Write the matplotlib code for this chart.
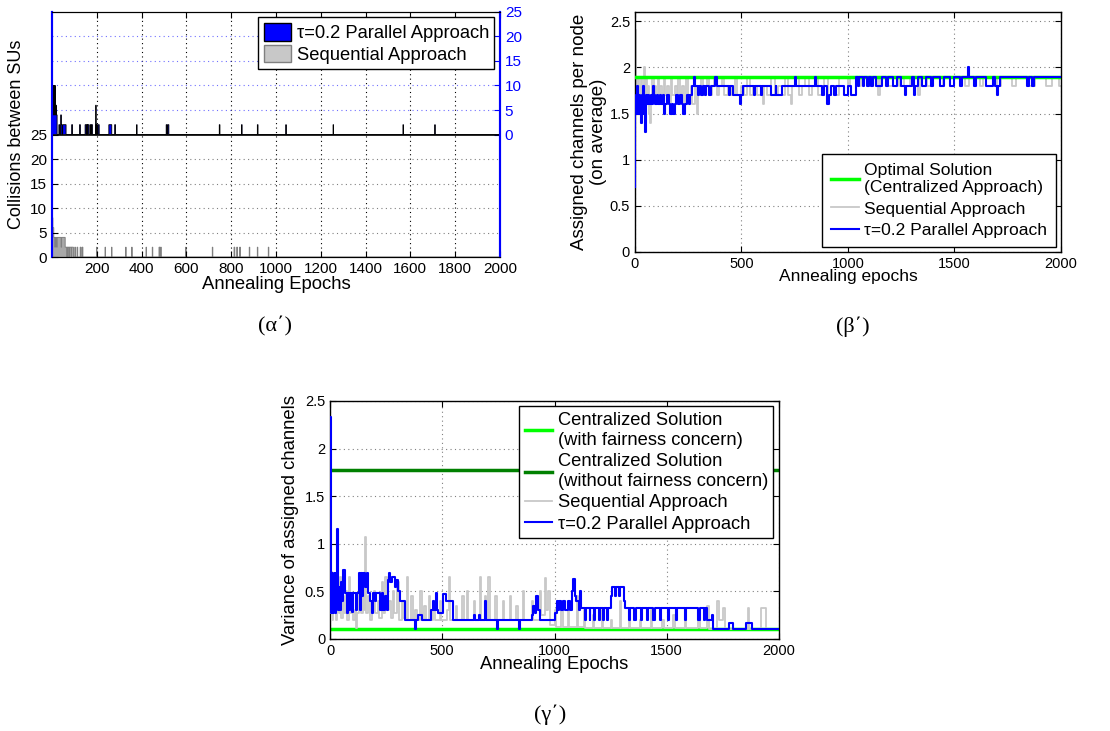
"""
Channel assignment results: collisions, assigned channels per node and their variance.
"""

import numpy as np
import matplotlib
matplotlib.use('Agg')
from matplotlib import pyplot as plt
from matplotlib.patches import Patch
from matplotlib.ticker import FormatStrFormatter

plt.rcParams['font.family'] = ['Liberation Sans', 'DejaVu Sans']

EPOCHS = 2000

# collisions between SUs, runs of (first epoch, last epoch, collisions)
par_collision_runs = [
    (1, 2, 10), (3, 4, 4), (5, 6, 10), (7, 8, 4), (9, 10, 10), (11, 12, 4),
    (13, 14, 10), (15, 17, 4), (18, 18, 6), (19, 22, 4), (31, 34, 2), (39, 41, 4),
    (42, 44, 2), (48, 62, 2), (88, 91, 2), (123, 126, 2), (148, 152, 2),
    (155, 158, 2), (160, 164, 2), (170, 173, 2), (176, 180, 2), (196, 196, 6),
    (198, 202, 2), (206, 210, 2), (254, 266, 2), (280, 283, 2), (378, 379, 2),
    (510, 513, 2), (517, 521, 2), (747, 749, 2), (846, 848, 2), (917, 919, 2),
    (1044, 1045, 2), (1255, 1256, 2), (1567, 1568, 2), (1709, 1710, 2),
]
seq_collision_runs = [
    (1, 3, 8), (4, 7, 6), (8, 12, 4), (13, 14, 2), (15, 20, 4), (21, 22, 2),
    (23, 40, 4), (41, 42, 2), (43, 58, 4), (59, 66, 2), (68, 75, 2), (77, 85, 2),
    (87, 95, 2), (102, 104, 2), (112, 114, 2), (126, 128, 2), (134, 137, 2),
    (199, 200, 2), (237, 238, 2), (266, 267, 2), (329, 330, 2), (356, 357, 2),
    (420, 421, 2), (448, 449, 2), (478, 481, 2), (485, 487, 2), (597, 598, 2),
    (716, 717, 2), (813, 815, 2), (825, 827, 2), (838, 840, 2), (881, 882, 2),
    (917, 918, 2), (966, 967, 2),
]

# assigned channels per node, (epoch, value) where the value changes
optimal_channels = 1.9
seq_channels = [
    (0, 2.4), (3, 1.8), (6, 1.9), (10, 1.5), (14, 1.9), (18, 1.6), (22, 1.8), (26, 1.7),
    (30, 1.9), (34, 1.6), (38, 1.8), (44, 2.0), (48, 1.7), (52, 1.9), (56, 1.6), (62, 1.8),
    (68, 1.5), (72, 1.4), (76, 1.7), (82, 1.9), (88, 1.7), (94, 1.8), (100, 1.6), (108, 1.9),
    (114, 1.7), (120, 1.8), (128, 1.6), (136, 1.9), (142, 1.7), (150, 1.8), (160, 1.6),
    (168, 1.9), (176, 1.7), (186, 1.8), (196, 1.6), (204, 1.9), (212, 1.7), (222, 1.8),
    (232, 1.6), (240, 1.9), (250, 1.7), (262, 1.8), (270, 1.6), (280, 1.8), (290, 1.5),
    (296, 1.8), (310, 1.9), (318, 1.7), (330, 1.8), (340, 1.9), (350, 1.7), (362, 1.8),
    (372, 1.9), (384, 1.7), (396, 1.8), (410, 1.9), (420, 1.7), (436, 1.8), (452, 1.7),
    (468, 1.9), (480, 1.7), (496, 1.8), (510, 1.7), (528, 1.9), (540, 1.7), (556, 1.8),
    (572, 1.7), (590, 1.8), (600, 1.6), (606, 1.8), (620, 1.7), (640, 1.9), (656, 1.7),
    (672, 1.8), (690, 1.7), (706, 1.9), (720, 1.7), (732, 1.6), (738, 1.8), (756, 1.9),
    (770, 1.7), (786, 1.8), (800, 1.9), (816, 1.7), (832, 1.8), (846, 1.9), (860, 1.7),
    (876, 1.8), (890, 1.9), (906, 1.7), (920, 1.8), (940, 1.7), (956, 1.9), (1000, 1.8),
    (1010, 1.9), (1040, 1.8), (1060, 1.9), (1100, 1.8), (1114, 1.9), (1140, 1.7),
    (1150, 1.9), (1190, 1.8), (1210, 1.9), (1240, 1.8), (1262, 1.9), (1290, 1.8),
    (1310, 1.9), (1330, 1.7), (1340, 1.9), (1370, 1.8), (1400, 1.9), (1430, 1.8),
    (1446, 1.9), (1480, 1.8), (1500, 1.9), (1550, 1.8), (1570, 1.9), (1620, 1.8),
    (1636, 1.9), (1700, 1.8), (1720, 1.9), (1770, 1.8), (1790, 1.9), (1850, 1.8),
    (1880, 1.9), (1930, 1.8), (1960, 1.9), (1990, 1.8), (2000, 1.8),
]
par_channels = [
    (0, 0.7), (2, 1.5), (5, 1.7), (8, 1.5), (11, 1.8), (14, 1.6), (17, 1.5), (20, 1.7),
    (24, 1.6), (28, 1.4), (32, 1.7), (36, 1.5), (40, 1.8), (44, 1.6), (47, 1.3), (50, 1.5),
    (54, 1.7), (58, 1.6), (62, 1.7), (68, 1.6), (74, 1.7), (80, 1.6), (86, 1.8), (90, 1.7),
    (96, 1.6), (102, 1.7), (110, 1.6), (116, 1.7), (124, 1.6), (132, 1.7), (138, 1.5),
    (142, 1.6), (150, 1.7), (158, 1.6), (166, 1.5), (172, 1.6), (180, 1.5), (186, 1.6),
    (194, 1.7), (202, 1.6), (212, 1.7), (222, 1.6), (228, 1.5), (234, 1.6), (244, 1.7),
    (252, 1.6), (258, 1.7), (266, 1.8), (278, 1.9), (284, 1.8), (296, 1.7), (302, 1.8),
    (312, 1.7), (318, 1.8), (330, 1.7), (336, 1.8), (350, 1.7), (356, 1.8), (378, 1.9),
    (384, 1.8), (440, 1.7), (446, 1.8), (462, 1.7), (494, 1.6), (500, 1.7), (506, 1.8),
    (560, 1.7), (566, 1.8), (592, 1.7), (598, 1.8), (640, 1.7), (660, 1.8), (664, 1.7),
    (690, 1.8), (750, 1.9), (756, 1.8), (846, 1.9), (852, 1.8), (880, 1.7), (890, 1.8),
    (904, 1.6), (912, 1.7), (920, 1.8), (934, 1.7), (946, 1.8), (980, 1.7), (1000, 1.8),
    (1014, 1.7), (1040, 1.9), (1046, 1.8), (1052, 1.9), (1070, 1.8), (1076, 1.9),
    (1090, 1.8), (1100, 1.9), (1110, 1.8), (1120, 1.9), (1130, 1.8), (1160, 1.9),
    (1180, 1.8), (1186, 1.9), (1210, 1.8), (1230, 1.9), (1250, 1.8), (1268, 1.7),
    (1274, 1.8), (1300, 1.9), (1310, 1.7), (1316, 1.8), (1330, 1.9), (1350, 1.8),
    (1366, 1.9), (1390, 1.8), (1400, 1.9), (1430, 1.8), (1450, 1.9), (1480, 1.8),
    (1500, 1.9), (1528, 1.8), (1534, 1.9), (1566, 2.0), (1570, 1.9), (1590, 1.8),
    (1600, 1.9), (1650, 1.8), (1680, 1.9), (1692, 1.8), (1700, 1.7), (1706, 1.8),
    (1716, 1.9), (1842, 1.8), (1850, 1.9), (1866, 1.8), (1874, 1.9), (2000, 1.9),
]

# variance of assigned channels, (epoch, value) where the value changes
fair_variance = 0.1
unfair_variance = 1.78
seq_variance = [
    (0, 0.27), (4, 0.7), (8, 0.2), (12, 0.5), (16, 0.27), (22, 0.6), (26, 0.2), (32, 0.4),
    (38, 0.27), (44, 0.65), (48, 0.22), (56, 0.45), (62, 0.27), (70, 0.5), (74, 0.2),
    (84, 0.65), (88, 0.27), (96, 0.4), (102, 0.2), (110, 0.3), (118, 0.12), (122, 0.27),
    (130, 0.5), (136, 0.27), (146, 0.6), (150, 0.3), (158, 1.07), (162, 0.27), (170, 0.45),
    (176, 0.2), (186, 0.3), (196, 0.5), (200, 0.27), (212, 0.4), (220, 0.22), (232, 0.6),
    (236, 0.27), (246, 0.65), (252, 0.3), (262, 0.4), (270, 0.22), (280, 0.5), (286, 0.27),
    (300, 0.6), (306, 0.2), (320, 0.4), (326, 0.22), (342, 0.65), (348, 0.2), (362, 0.45),
    (368, 0.2), (380, 0.3), (386, 0.2), (402, 0.5), (408, 0.2), (420, 0.35), (426, 0.2),
    (440, 0.45), (446, 0.2), (460, 0.3), (466, 0.2), (490, 0.4), (496, 0.2), (520, 0.3),
    (530, 0.65), (536, 0.2), (560, 0.35), (566, 0.2), (590, 0.45), (596, 0.2), (610, 0.5),
    (616, 0.2), (640, 0.4), (646, 0.2), (666, 0.65), (672, 0.2), (690, 0.45), (696, 0.2),
    (706, 0.65), (712, 0.2), (736, 0.45), (742, 0.2), (770, 0.4), (776, 0.2), (800, 0.45),
    (806, 0.2), (830, 0.35), (836, 0.2), (860, 0.5), (866, 0.2), (900, 0.4), (906, 0.2),
    (934, 0.5), (940, 0.25), (958, 0.64), (964, 0.3), (972, 0.5), (980, 0.15), (1000, 0.3),
    (1006, 0.13), (1030, 0.4), (1036, 0.13), (1060, 0.3), (1066, 0.13), (1100, 0.45),
    (1106, 0.13), (1130, 0.3), (1136, 0.12), (1170, 0.25), (1176, 0.12), (1210, 0.3),
    (1216, 0.12), (1250, 0.2), (1256, 0.12), (1290, 0.4), (1296, 0.12), (1330, 0.25),
    (1336, 0.12), (1380, 0.2), (1386, 0.12), (1430, 0.3), (1436, 0.12), (1480, 0.2),
    (1486, 0.12), (1530, 0.25), (1536, 0.12), (1580, 0.3), (1586, 0.12), (1640, 0.2),
    (1646, 0.12), (1680, 0.35), (1690, 0.1), (1726, 0.4), (1734, 0.2), (1750, 0.33),
    (1760, 0.1), (1860, 0.33), (1868, 0.1), (1920, 0.33), (1940, 0.1), (2000, 0.1),
]
par_variance = [
    (0, 2.33), (3, 0.97), (6, 0.27), (9, 0.69), (12, 0.27), (15, 0.5), (18, 0.3), (21, 0.69),
    (24, 0.27), (28, 0.55), (33, 1.15), (37, 0.3), (41, 0.55), (45, 0.3), (50, 0.6),
    (54, 0.4), (58, 0.72), (68, 0.48), (74, 0.27), (78, 0.48), (86, 0.3), (90, 0.48),
    (100, 0.28), (104, 0.48), (116, 0.3), (122, 0.48), (128, 0.69), (132, 0.3), (138, 0.69),
    (142, 0.45), (148, 0.69), (158, 0.55), (164, 0.69), (170, 0.48), (178, 0.4), (186, 0.27),
    (190, 0.48), (200, 0.4), (206, 0.48), (222, 0.3), (230, 0.48), (236, 0.3), (244, 0.45),
    (252, 0.3), (258, 0.62), (264, 0.69), (268, 0.6), (276, 0.65), (288, 0.55), (296, 0.62),
    (302, 0.5), (310, 0.4), (334, 0.2), (378, 0.1), (382, 0.2), (394, 0.25), (408, 0.2),
    (452, 0.3), (458, 0.4), (462, 0.3), (470, 0.48), (476, 0.3), (481, 0.27), (503, 0.47),
    (518, 0.4), (548, 0.2), (640, 0.25), (646, 0.2), (664, 0.25), (670, 0.2), (690, 0.4),
    (696, 0.2), (746, 0.1), (750, 0.2), (842, 0.1), (846, 0.2), (900, 0.25), (906, 0.35),
    (912, 0.27), (918, 0.45), (926, 0.3), (936, 0.2), (1004, 0.27), (1010, 0.4), (1016, 0.3),
    (1022, 0.4), (1030, 0.3), (1040, 0.4), (1046, 0.3), (1062, 0.4), (1068, 0.3), (1076, 0.5),
    (1084, 0.63), (1090, 0.45), (1096, 0.4), (1108, 0.3), (1114, 0.5), (1120, 0.33),
    (1136, 0.2), (1140, 0.33), (1156, 0.2), (1160, 0.33), (1176, 0.2), (1180, 0.33),
    (1196, 0.2), (1202, 0.33), (1214, 0.2), (1220, 0.33), (1236, 0.2), (1240, 0.33),
    (1252, 0.45), (1256, 0.55), (1268, 0.45), (1272, 0.55), (1286, 0.45), (1290, 0.55),
    (1310, 0.4), (1316, 0.33), (1330, 0.2), (1336, 0.33), (1356, 0.2), (1362, 0.33),
    (1384, 0.2), (1390, 0.33), (1412, 0.2), (1418, 0.33), (1440, 0.2), (1446, 0.33),
    (1470, 0.2), (1476, 0.33), (1504, 0.2), (1510, 0.33), (1540, 0.2), (1546, 0.33),
    (1580, 0.2), (1586, 0.33), (1640, 0.2), (1646, 0.33), (1664, 0.2), (1670, 0.33),
    (1678, 0.2), (1700, 0.25), (1708, 0.1), (1776, 0.17), (1796, 0.1), (1852, 0.17),
    (1880, 0.1), (2000, 0.1),
]

BLUE = '#0000ff'
GRAY = '#c8c8c8'
LIME = '#00ff00'
GREEN = '#008000'
DOTS = (0, (1, 3))
LEGEND_KW = dict(fancybox=False, framealpha=1, edgecolor='black', borderpad=0.3,
                 handletextpad=0.3, labelspacing=0.25, borderaxespad=0.3)


def runs_to_counts(runs):
    """ Expand (first, last, value) runs into one value per epoch. """
    counts = np.zeros(EPOCHS)
    for first, last, value in runs:
        counts[first:last + 1] = value
    return counts


def steps(points):
    xs, ys = zip(*points)
    return np.array(xs), np.array(ys)


def style_box(ax, size):
    ax.tick_params(direction='in', top=True, right=True, length=4, labelsize=size)
    ax.grid(True, color='#808080', linestyle=DOTS, linewidth=0.8)
    ax.set_axisbelow(True)
    for spine in ax.spines.values():
        spine.set_linewidth(1.0)


fig = plt.figure(figsize=(11.1, 7.31), dpi=100)

# collisions: sequential on the lower half (left axis), parallel on the upper half (right axis)
ax_a = fig.add_axes([0.0468, 0.6484, 0.4036, 0.3352])
edges = np.arange(EPOCHS + 1)
seq_counts = runs_to_counts(seq_collision_runs)
par_counts = runs_to_counts(par_collision_runs)
ax_a.stairs(seq_counts, edges, fill=True, color='#a8a8a8', linewidth=0)
ax_a.stairs(seq_counts, edges, color='#808080', linewidth=0.7)
ax_a.set_xlim(0, EPOCHS)
ax_a.set_ylim(0, 50)
ax_a.set_yticks(range(0, 26, 5))
ax_a.set_xticks(range(200, 2001, 200))
ax_a.tick_params(direction='in', top=True, length=4, labelsize=11)
ax_a.grid(True, axis='x', color='black', linestyle=DOTS, linewidth=0.8)
for y in range(5, 25, 5):
    ax_a.axhline(y, color='#808080', linestyle=DOTS, linewidth=0.8, zorder=0)
ax_a.set_xlabel('Annealing Epochs', fontsize=13.3, labelpad=0)
ax_a.set_ylabel('Collisions between SUs', fontsize=13)

ax_a2 = ax_a.twinx()
ax_a2.stairs(par_counts, edges, fill=True, color=BLUE, linewidth=0)
ax_a2.stairs(par_counts, edges, color='black', linewidth=0.6)
ax_a2.axhline(0, color='black', linewidth=1.2)
ax_a2.set_ylim(-25, 25)
ax_a2.set_yticks(range(0, 26, 5))
ax_a2.tick_params(direction='in', length=4, labelsize=11, labelcolor=BLUE, color=BLUE)
for y in range(5, 25, 5):
    ax_a2.axhline(y, color='#7070ff', linestyle=DOTS, linewidth=0.8, zorder=0)
for ax in (ax_a, ax_a2):
    ax.spines['left'].set_color(BLUE)
    ax.spines['right'].set_color(BLUE)
    ax.spines['left'].set_linewidth(1.5)
    ax.spines['right'].set_linewidth(1.5)
ax_a2.legend(handles=[Patch(facecolor=BLUE, edgecolor='black', label=u'\u03c4=0.2 Parallel Approach'),
                      Patch(facecolor=GRAY, edgecolor='#808080', label='Sequential Approach')],
             loc='upper right', fontsize=13.2, handlelength=1.5, handleheight=1.1,
             **dict(LEGEND_KW, labelspacing=0.15))

# assigned channels per node
ax_b = fig.add_axes([0.572, 0.6553, 0.3838, 0.3283])
x, y = steps(seq_channels)
ax_b.plot(x, y, drawstyle='steps-post', color=GRAY, linewidth=1.3, label='Sequential Approach', zorder=2)
ax_b.axhline(optimal_channels, color=LIME, linewidth=2.5,
             label='Optimal Solution\n(Centralized Approach)', zorder=3)
x, y = steps(par_channels)
ax_b.plot(x, y, drawstyle='steps-post', color=BLUE, linewidth=1.5,
          label=u'\u03c4=0.2 Parallel Approach', zorder=4)
ax_b.set_xlim(0, EPOCHS)
ax_b.set_ylim(0, 2.6)
ax_b.set_xticks(range(0, 2001, 500))
ax_b.set_yticks(np.arange(0, 2.51, 0.5))
ax_b.yaxis.set_major_formatter(FormatStrFormatter('%g'))
style_box(ax_b, 10.5)
ax_b.set_xlabel('Annealing epochs', fontsize=12.5, labelpad=-1)
ax_b.set_ylabel('Assigned channels per node\n(on average)', fontsize=13.5, linespacing=1.15,
                labelpad=2)
handles, labels = ax_b.get_legend_handles_labels()
order = [1, 0, 2]
ax_b.legend([handles[i] for i in order], [labels[i] for i in order], loc='lower right',
            fontsize=12.6, handlelength=1.6, **dict(LEGEND_KW, borderpad=0.5, labelspacing=0.35))

# variance of assigned channels
ax_c = fig.add_axes([0.2973, 0.1259, 0.4045, 0.3256])
ax_c.axhline(fair_variance, color=LIME, linewidth=2.5,
             label='Centralized Solution\n(with fairness concern)', zorder=2)
ax_c.axhline(unfair_variance, color=GREEN, linewidth=2.5,
             label='Centralized Solution\n(without fairness concern)', zorder=2)
x, y = steps(seq_variance)
ax_c.plot(x, y, drawstyle='steps-post', color=GRAY, linewidth=1.3, label='Sequential Approach', zorder=3)
x, y = steps(par_variance)
ax_c.plot(x, y, drawstyle='steps-post', color=BLUE, linewidth=1.5,
          label=u'\u03c4=0.2 Parallel Approach', zorder=4)
ax_c.set_xlim(0, EPOCHS)
ax_c.set_ylim(0, 2.5)
ax_c.set_xticks(range(0, 2001, 500))
ax_c.set_yticks(np.arange(0, 2.51, 0.5))
ax_c.yaxis.set_major_formatter(FormatStrFormatter('%g'))
style_box(ax_c, 10.5)
ax_c.set_xlabel('Annealing Epochs', fontsize=13.2, labelpad=-1.5)
ax_c.set_ylabel('Variance of assigned channels', fontsize=13.3)
ax_c.legend(loc='upper right', fontsize=13.2, handlelength=1.5, **LEGEND_KW)

# sub-figure captions
caption_font = ['Liberation Serif', 'DejaVu Serif']
fig.text(0.2477, 0.5527, u'(\u03b1\u0384)', family=caption_font, fontsize=16, ha='center', va='center')
fig.text(0.7685, 0.5527, u'(\u03b2\u0384)', family=caption_font, fontsize=16, ha='center', va='center')
fig.text(0.4955, 0.0219, u'(\u03b3\u0384)', family=caption_font, fontsize=16, ha='center', va='center')

fig.savefig('out.png', dpi=100)
